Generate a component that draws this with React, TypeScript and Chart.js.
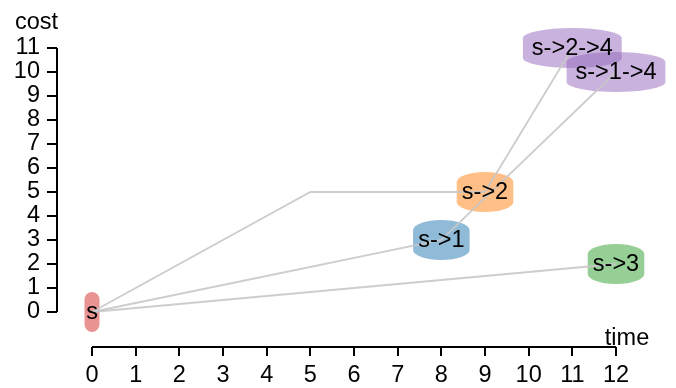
import React, { useEffect, useRef } from "react";
import { Chart, registerables } from "chart.js";

Chart.register(...registerables);

// ---- data ----
const nodeLabels = ["s", "s->1", "s->2", "s->3", "s->2->4", "s->1->4"];
const nodeTime = [0, 8, 9, 12, 11, 12];
const nodeCost = [0, 3, 5, 2, 11, 10];
const nodeColors = [
  "rgba(214,39,40,0.5)",
  "rgba(31,119,180,0.5)",
  "rgba(255,127,14,0.5)",
  "rgba(44,160,44,0.5)",
  "rgba(148,103,189,0.5)",
  "rgba(148,103,189,0.5)",
];

// paths (polylines) from s through intermediate points
const path1Time = [0, 8, 12];
const path1Cost = [0, 3, 10];
const path2Time = [0, 5, 9, 11];
const path2Cost = [0, 5, 5, 11];
const path3Time = [0, 12];
const path3Cost = [0, 2];

const xTicks = [0, 1, 2, 3, 4, 5, 6, 7, 8, 9, 10, 11, 12];
const yTicks = [0, 1, 2, 3, 4, 5, 6, 7, 8, 9, 10, 11];

const FONT = "'Liberation Sans', Arial, Helvetica, sans-serif";
const FS = 23.5;

function toPts(t: number[], c: number[]) {
  return t.map((v, i) => ({ x: v, y: c[i] }));
}

const nodesPlugin = {
  id: "nodes",
  beforeDatasetsDraw(chart: any) {
    const { ctx, scales } = chart;
    ctx.save();
    ctx.font = `${FS}px ${FONT}`;
    nodeLabels.forEach((lab, i) => {
      const cx = scales.x.getPixelForValue(nodeTime[i]);
      const cy = scales.y.getPixelForValue(nodeCost[i]);
      const tw = ctx.measureText(lab).width;
      const w = Math.max(15, tw * 1.22);
      const h = 40;
      const rx = w / 2;
      const ry = Math.min(10, rx);
      const l = cx - rx, r = cx + rx, t = cy - h / 2, b = cy + h / 2;
      ctx.beginPath();
      ctx.moveTo(l, t + ry);
      ctx.ellipse(cx, t + ry, rx, ry, 0, Math.PI, 2 * Math.PI);
      ctx.lineTo(r, b - ry);
      ctx.ellipse(cx, b - ry, rx, ry, 0, 0, Math.PI);
      ctx.closePath();
      ctx.fillStyle = nodeColors[i];
      ctx.fill();
    });
    ctx.restore();
  },
  afterDatasetsDraw(chart: any) {
    const { ctx, scales, chartArea } = chart;
    ctx.save();
    ctx.fillStyle = "#000";
    ctx.font = `${FS}px ${FONT}`;
    ctx.textAlign = "center";
    ctx.textBaseline = "middle";
    nodeLabels.forEach((lab, i) => {
      const cx = scales.x.getPixelForValue(nodeTime[i]);
      const cy = scales.y.getPixelForValue(nodeCost[i]);
      ctx.fillText(lab, cx, cy + 1);
    });
    // domain lines
    ctx.strokeStyle = "#000";
    ctx.lineWidth = 2;
    ctx.beginPath();
    const y0 = scales.y.getPixelForValue(yTicks[0]);
    const y1 = scales.y.getPixelForValue(yTicks[yTicks.length - 1]);
    ctx.moveTo(chartArea.left, y0);
    ctx.lineTo(chartArea.left, y1);
    const x0 = scales.x.getPixelForValue(xTicks[0]);
    const x1 = scales.x.getPixelForValue(xTicks[xTicks.length - 1]);
    ctx.moveTo(x0, chartArea.bottom);
    ctx.lineTo(x1, chartArea.bottom);
    ctx.stroke();
    // axis titles
    ctx.textBaseline = "alphabetic";
    ctx.textAlign = "right";
    ctx.fillText("cost", chartArea.left + 1, chartArea.top - 19);
    ctx.textAlign = "center";
    ctx.fillText("time", x1 + 11, chartArea.bottom - 2);
    ctx.restore();
  },
};

export default function App() {
  const ref = useRef<HTMLCanvasElement>(null);
  useEffect(() => {
    if (!ref.current) return;
    const lineDs = (t: number[], c: number[]) => ({
      data: toPts(t, c),
      showLine: true,
      borderColor: "rgba(200,200,200,0.9)",
      borderWidth: 1.8,
      pointRadius: 0,
      fill: false,
      clip: false as any,
    });
    const chart = new Chart(ref.current, {
      type: "scatter",
      data: {
        datasets: [
          lineDs(path1Time, path1Cost),
          lineDs(path2Time, path2Cost),
          lineDs(path3Time, path3Cost),
        ],
      },
      options: {
        animation: false,
        responsive: false,
        devicePixelRatio: 1,
        layout: { padding: { top: 48, right: 60, left: 0, bottom: 0 } },
        plugins: { legend: { display: false }, tooltip: { enabled: false } },
        scales: {
          x: {
            type: "linear",
            min: -420 / 524,
            max: 12,
            afterBuildTicks: (s: any) => {
              s.ticks = xTicks.map((v) => ({ value: v }));
            },
            afterFit: (s: any) => {
              s.height = 41;
            },
            border: { display: false },
            grid: {
              drawOnChartArea: false,
              drawTicks: true,
              tickLength: 9,
              color: "#000",
              lineWidth: 2,
            },
            ticks: {
              color: "#000",
              font: { family: FONT, size: FS },
              padding: 5,
              maxRotation: 0,
              autoSkip: false,
            },
          },
          y: {
            type: "linear",
            min: -385 / 264,
            max: 11,
            afterBuildTicks: (s: any) => {
              s.ticks = yTicks.map((v) => ({ value: v }));
            },
            afterFit: (s: any) => {
              s.width = 57;
            },
            border: { display: false },
            grid: {
              drawOnChartArea: false,
              drawTicks: true,
              tickLength: 10,
              color: "#000",
              lineWidth: 2,
            },
            ticks: {
              color: "#000",
              font: { family: FONT, size: FS },
              padding: 7,
              autoSkip: false,
            },
          },
        },
      },
      plugins: [nodesPlugin],
    });
    return () => chart.destroy();
  }, []);
  return (
    <div style={{ position: "absolute", left: 0, top: 0, width: 676, height: 388 }}>
      <canvas ref={ref} width={676} height={388} />
    </div>
  );
}
